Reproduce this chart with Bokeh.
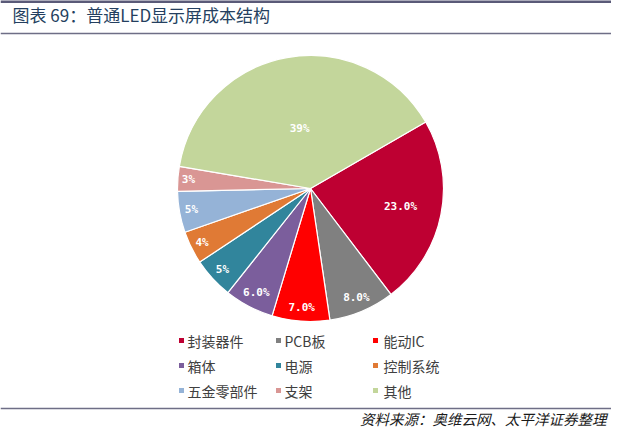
import math
from bokeh.plotting import figure
from bokeh.models import Range1d, ColumnDataSource
from bokeh.embed import file_html
from bokeh.resources import INLINE
from bokeh.core.properties import value

# ---- data ----
categories = ["封装器件", "PCB板", "能动IC", "箱体", "电源", "控制系统", "五金零部件", "支架", "其他"]
shares = [23.0, 8.0, 7.0, 6.0, 5.0, 4.0, 5.0, 3.0, 39.0]
labels = ["23.0%", "8.0%", "7.0%", "6.0%", "5%", "4%", "5%", "3%", "39%"]
colors = ["#BE0032", "#808080", "#FF0000", "#7B5E9C", "#31859C", "#E07A35", "#95B3D7", "#D99694", "#C3D69B"]
label_radius_frac = [0.69, 0.89, 0.90, 0.88, 0.90, 0.91, 0.91, 0.92, 0.46]
title_text = "图表 69：普通LED显示屏成本结构"
source_text = "资料来源：奥维云网、太平洋证券整理"

W, H = 611, 428


def sx(x):
    return x


def sy(y):
    return H - y


p = figure(width=W, height=H, x_range=Range1d(0, W), y_range=Range1d(0, H),
           output_backend="svg", toolbar_location=None, min_border=0)
p.xaxis.visible = False
p.yaxis.visible = False
p.grid.visible = False
p.outline_line_color = None
p.background_fill_color = "white"

# ---- header / footer rules ----
p.segment(x0=[0], y0=[sy(1)], x1=[W], y1=[sy(1)], line_color="#5A5A78", line_width=3)
p.segment(x0=[0], y0=[sy(33)], x1=[W], y1=[sy(33)], line_color="#6E6E86", line_width=1.5)
p.segment(x0=[0], y0=[sy(408)], x1=[W], y1=[sy(408)], line_color="#6E6E86", line_width=1.5)

p.text(x=[sx(12)], y=[sy(14)], text=[title_text], text_font=value("Noto Sans CJK SC"),
       text_font_size="17px", text_color="#243F60", text_baseline="middle", text_align="left")
p.text(x=[sx(606)], y=[sy(418)], text=[source_text], text_font=value("Noto Sans CJK SC"),
       text_font_size="14.5px", text_font_style="italic", text_color="#1A1A1A",
       text_baseline="middle", text_align="right")

# ---- pie ----
cx, cy, R = sx(310), sy(188), 133
start0 = math.radians(30)
total = sum(shares)
starts, ends, mids = [], [], []
cum = 0.0
for v in shares:
    a0 = start0 - cum / total * 2 * math.pi
    cum += v
    a1 = start0 - cum / total * 2 * math.pi
    starts.append(a0)
    ends.append(a1)
    mids.append((a0 + a1) / 2)

src = ColumnDataSource(dict(start=starts, end=ends, color=colors))
p.wedge(x=cx, y=cy, radius=R, start_angle="start", end_angle="end", direction="clock",
        fill_color="color", line_color="white", line_width=1.2, source=src)

lx = [cx + f * R * math.cos(m) for f, m in zip(label_radius_frac, mids)]
ly = [cy + f * R * math.sin(m) for f, m in zip(label_radius_frac, mids)]
p.text(x=lx, y=ly, text=labels, text_font=value("DejaVu Sans Mono"), text_font_size="11px",
       text_font_style="bold", text_color="white", text_align="center", text_baseline="middle")

# ---- legend (3 columns) ----
col_sq = [181, 278, 375]
col_tx = [187, 284, 383]
row_y = [340, 365, 390]
sqx, sqy, tx, ty = [], [], [], []
for i, c in enumerate(categories):
    col, row = i % 3, i // 3
    sqx.append(sx(col_sq[col]))
    sqy.append(sy(row_y[row]))
    tx.append(sx(col_tx[col]))
    ty.append(sy(row_y[row]))
p.scatter(x=sqx, y=sqy, marker="square", size=5, fill_color=colors, line_color=None)
p.text(x=tx, y=ty, text=categories, text_font=value("Noto Sans CJK SC"), text_font_size="14px",
       text_color="#404040", text_align="left", text_baseline="middle")

open("out.html", "w").write(file_html(p, INLINE))
